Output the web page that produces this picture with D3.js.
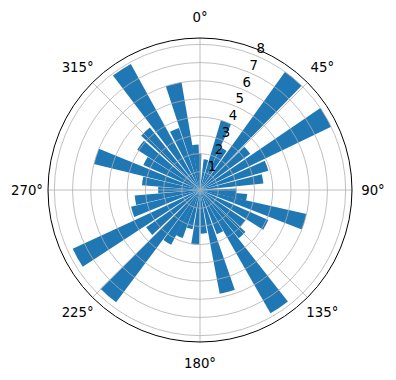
<!DOCTYPE html>
<html>
<head>
<meta charset="utf-8">
<script src="https://cdn.jsdelivr.net/npm/d3@7"></script>
<style>
  body { margin: 0; background: #fff; }
  svg text { font-family: "DejaVu Sans", sans-serif; font-size: 13.3px; fill: #000; }
</style>
</head>
<body>
<div id="chart"></div>
<script>
// bar directions (degrees, clockwise from north) and lengths
var directions = [-2, 11, 21, 30, 40, 50, 60, 70, 80, 92, 99, 107,
                  118, 128, 137, 146, 155, 165, 175, 185, 195, 204, 212, 221,
                  231, 241, 252, 261, 270, 279, 288, 298, 307, 317, 327, 337,
                  346, 354];
var lengths = [2.0, 1.7, 4.0, 2.6, 8.0, 3.4, 8.0, 3.9, 3.5, 2.0, 2.6, 6.0,
               4.1, 3.0, 3.4, 7.8, 2.6, 5.8, 2.4, 3.0, 2.2, 2.8, 3.4, 7.7,
               3.6, 7.7, 3.9, 3.6, 2.3, 3.2, 6.0, 3.4, 4.1, 4.4, 7.9, 3.6,
               6.0, 2.5];
var barWidthDeg = 8.5;

// axis ticks
var rTicks = [1, 2, 3, 4, 5, 6, 7, 8];
var thetaTicks = [0, 45, 90, 135, 180, 225, 270, 315];
var rMax = 8.35;
var rLabelAngle = 22.5;

var width = 396, height = 380;
var cx = 200, cy = 190, R = 152;

var svg = d3.select('#chart')
    .append('svg')
    .attr('width', width)
    .attr('height', height);

var g = svg.append('g').attr('transform', 'translate(' + cx + ',' + cy + ')');

var scaleR = d3.scaleLinear().domain([0, rMax]).range([0, R]);
var rad = function(deg) { return deg * Math.PI / 180; };

// bars (d3.arc already measures angles clockwise from 12 o'clock)
var arc = d3.arc()
    .innerRadius(0)
    .outerRadius(function(d) { return scaleR(d.v); })
    .startAngle(function(d) { return rad(d.a - barWidthDeg / 2); })
    .endAngle(function(d) { return rad(d.a + barWidthDeg / 2); });

var bars = directions.map(function(a, i) { return {a: a, v: lengths[i]}; });

g.append('g').attr('class', 'bars')
    .selectAll('path')
    .data(bars)
    .enter()
    .append('path')
    .attr('d', arc)
    .attr('fill', '#1f77b4');

// grid on top of the bars, like matplotlib
var grid = g.append('g').attr('class', 'grid');
grid.selectAll('circle')
    .data(rTicks)
    .enter()
    .append('circle')
    .attr('r', function(d) { return scaleR(d); })
    .attr('fill', 'none')
    .attr('stroke', '#b0b0b0')
    .attr('stroke-width', 0.8);

grid.selectAll('line')
    .data(thetaTicks)
    .enter()
    .append('line')
    .attr('x1', 0).attr('y1', 0)
    .attr('x2', function(d) { return R * Math.sin(rad(d)); })
    .attr('y2', function(d) { return -R * Math.cos(rad(d)); })
    .attr('stroke', '#b0b0b0')
    .attr('stroke-width', 0.8);

// outer spine
g.append('circle')
    .attr('r', R)
    .attr('fill', 'none')
    .attr('stroke', '#000')
    .attr('stroke-width', 1);

// angle labels
g.selectAll('.tlabel')
    .data(thetaTicks)
    .enter()
    .append('text')
    .attr('class', 'tlabel')
    .attr('x', function(d) { return (R + 21) * Math.sin(rad(d)); })
    .attr('y', function(d) { return -(R + 21) * Math.cos(rad(d)); })
    .attr('text-anchor', 'middle')
    .attr('dominant-baseline', 'central')
    .text(function(d) { return d + '\u00B0'; });

// radial labels
g.selectAll('.rlabel')
    .data(rTicks)
    .enter()
    .append('text')
    .attr('class', 'rlabel')
    .attr('x', function(d) { return scaleR(d) * Math.sin(rad(rLabelAngle)) + 5; })
    .attr('y', function(d) { return -scaleR(d) * Math.cos(rad(rLabelAngle)) - 7; })
    .attr('text-anchor', 'middle')
    .attr('dominant-baseline', 'central')
    .text(function(d) { return d; });
</script>
</body>
</html>
